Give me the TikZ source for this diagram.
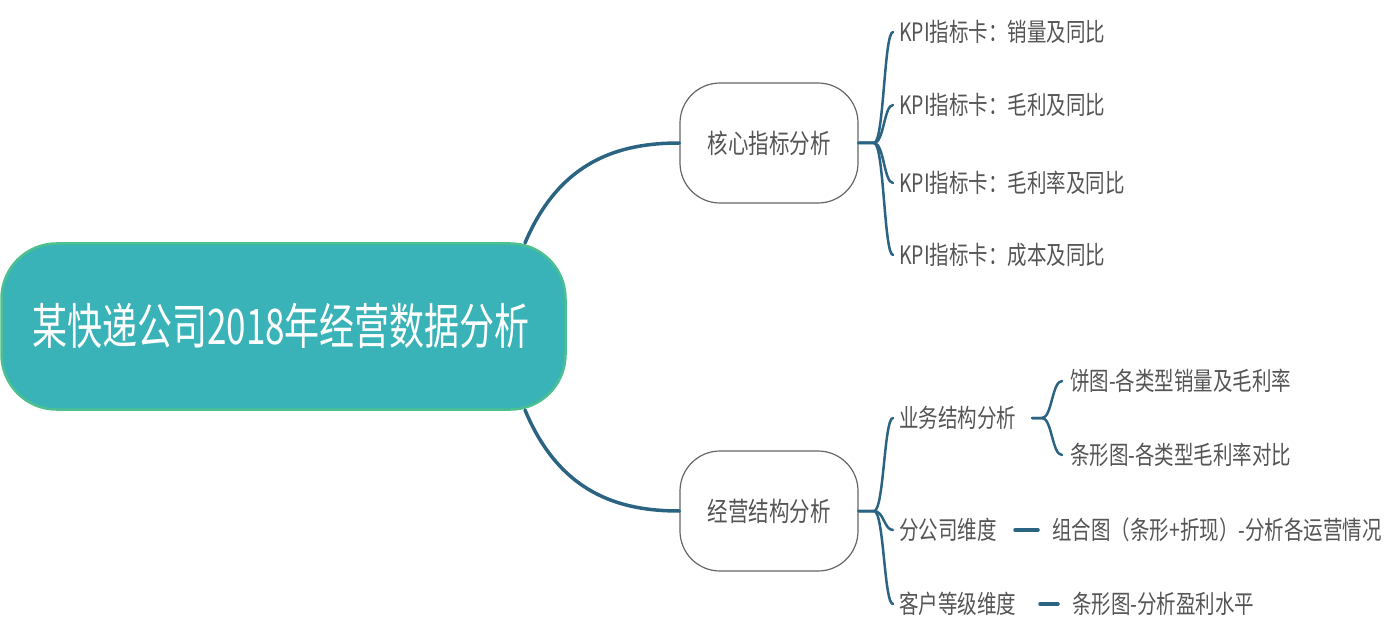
\documentclass[tikz,border=0pt]{standalone}
\usepackage{fontspec}
\setmainfont{Noto Sans CJK SC}
\begin{document}
\begin{tikzpicture}[x=1pt,y=-1pt,
  line/.style={draw=lnk,line width=3.5pt,line cap=round},
  br/.style={draw=lnk,line width=2.5pt,line cap=round},
  sub/.style={draw=gray!80!black,line width=1.2pt,rounded corners=40pt,fill=white,minimum width=178pt,minimum height=120pt},
  st/.style={text=txt,font=\fontsize{20.5}{24}\selectfont,yscale=1.3},
  it/.style={anchor=west,inner sep=0pt,text=txt,font=\fontsize{19.5}{22}\selectfont,yscale=1.3}]
\definecolor{lnk}{HTML}{2B6483}
\definecolor{txt}{HTML}{555555}
\definecolor{teal}{HTML}{3AB3B8}
\definecolor{bord}{HTML}{4CC08F}
\useasboundingbox (0,0) rectangle (1399,636);
\node[draw=bord,line width=2.5pt,fill=teal,rounded corners=55pt,minimum width=564pt,minimum height=166pt] (root) at (283.5,326.5) {};
\node[text=white,font=\fontsize{35}{40}\selectfont,yscale=1.4] at (281,326) {某快递公司2018年经营数据分析};
\node[sub] (a) at (769,143) {};
\node[st] at (769,143) {核心指标分析};
\node[sub] (b) at (769,511) {};
\node[st] at (769,511) {经营结构分析};
\coordinate (r1) at (525,243);
\coordinate (r2) at (525,410);
\draw[line] (r1) .. controls (560,160) and (620,143) .. (a.west);
\draw[line] (r2) .. controls (560,494) and (620,511) .. (b.west);
\coordinate (ab) at (874,143);
\foreach \y/\t/\n in {32/{KPI指标卡：销量及同比}/a1,105/{KPI指标卡：毛利及同比}/a2,183/{KPI指标卡：毛利率及同比}/a3,255/{KPI指标卡：成本及同比}/a4}{
  \node[it] (\n) at (899,\y) {\t};
  \coordinate (\n c) at (893,\y);
  \draw[br] (a.east) -- (ab) .. controls (884,143) and (884,\y) .. (\n c);
}
\coordinate (bb) at (874,511);
\node[it] (b1) at (899,418) {业务结构分析};
\node[it] (b2) at (899,530) {分公司维度};
\node[it] (b3) at (899,604) {客户等级维度};
\foreach \n/\y in {b1/418,b2/530,b3/604}{
  \coordinate (\n c) at (893,\y);
  \draw[br] (b.east) -- (bb) .. controls (884,511) and (884,\y) .. (\n c);
}
\coordinate (cb) at (1042,418);
\node[it] (c1) at (1070,381) {饼图-各类型销量及毛利率};
\node[it] (c2) at (1070,455) {条形图-各类型毛利率对比};
\coordinate (c1c) at (1062,381);
\coordinate (c2c) at (1062,455);
\coordinate (b1e) at (1032,418);
\draw[br] (b1e) -- (cb) .. controls (1052,418) and (1052,381) .. (c1c);
\draw[br] (b1e) -- (cb) .. controls (1052,418) and (1052,455) .. (c2c);
\node[it] (d1) at (1052,530) {组合图（条形+折现）-分析各运营情况};
\node[it] (d2) at (1072,604) {条形图-分析盈利水平};
\coordinate (b2e) at (1015,530); \coordinate (d1w) at (1038,530);
\coordinate (b3e) at (1040,604); \coordinate (d2w) at (1058,604);
\draw[line] (b2e) -- (d1w);
\draw[line] (b3e) -- (d2w);
\end{tikzpicture}
\end{document}
